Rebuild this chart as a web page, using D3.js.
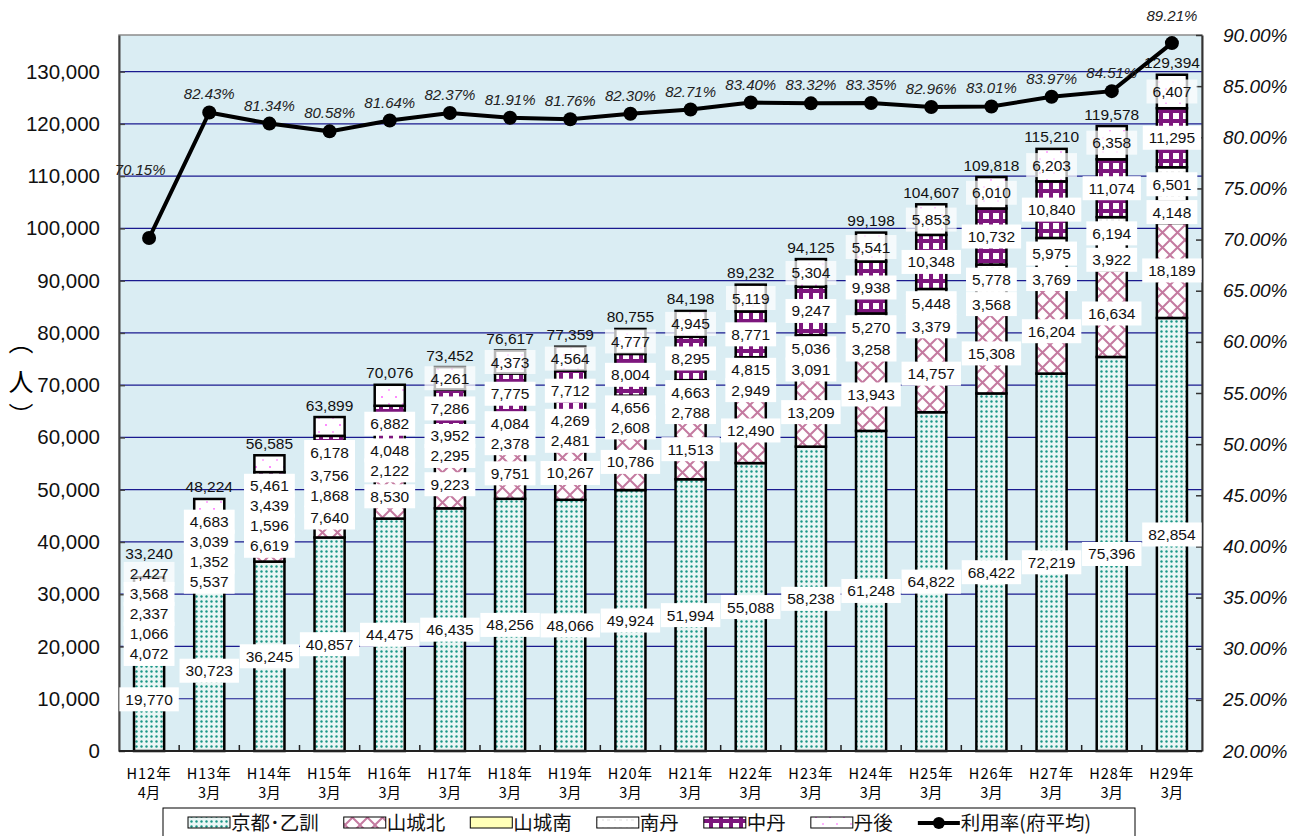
<!DOCTYPE html>
<html>
<head>
<meta charset="utf-8">
<script src="https://cdnjs.cloudflare.com/ajax/libs/d3/7.8.5/d3.min.js"></script>
<style>
body { margin: 0; background: #fff; }
svg { display: block; }
</style>
</head>
<body>
<script>
// --- data ---
var years = ['H12年','H13年','H14年','H15年','H16年','H17年','H18年','H19年','H20年','H21年','H22年','H23年','H24年','H25年','H26年','H27年','H28年','H29年'];
var months = ['4月','3月','3月','3月','3月','3月','3月','3月','3月','3月','3月','3月','3月','3月','3月','3月','3月','3月'];

var kyoto = [19770,30723,36245,40857,44475,46435,48256,48066,49924,51994,55088,58238,61248,64822,68422,72219,75396,82854];
var yamashiroKita = [4072,5537,6619,7640,8530,9223,9751,10267,10786,11513,12490,13209,13943,14757,15308,16204,16634,18189];
var yamashiroMinami = [1066,1352,1596,1868,2122,2295,2378,2481,2608,2788,2949,3091,3258,3379,3568,3769,3922,4148];
var nantan = [2337,3039,3439,3756,4048,3952,4084,4269,4656,4663,4815,5036,5270,5448,5778,5975,6194,6501];
var chutan = [3568,4683,5461,6178,6882,7286,7775,7712,8004,8295,8771,9247,9938,10348,10732,10840,11074,11295];
var tango = [2427,2890,3225,3600,4019,4261,4373,4564,4777,4945,5119,5304,5541,5853,6010,6203,6358,6407];
// tango labels that are covered in the original
var tangoUnlabeled = ['H13年','H14年','H15年','H16年'];
var rate = [70.15,82.43,81.34,80.58,81.64,82.37,81.91,81.76,82.30,82.71,83.40,83.32,83.35,82.96,83.01,83.97,84.51,89.21];

var seriesNames = ['京都･乙訓','山城北','山城南','南丹','中丹','丹後'];
var seriesValues = [kyoto, yamashiroKita, yamashiroMinami, nantan, chutan, tango];
var lineName = '利用率(府平均)';

var leftTicks = d3.range(0, 130001, 10000);
var rightTicks = d3.range(20, 90.1, 5);

// --- setup ---
var W = 1304, H = 836;
var pLeft = 119, pRight = 1202, pTop = 35, pBottom = 751;
var fNum = "'Liberation Sans', Arial, sans-serif";
var fJa = "'Noto Sans CJK JP', 'Liberation Sans', sans-serif";

var svg = d3.select('body').append('svg').attr('width', W).attr('height', H);
var defs = svg.append('defs');

var pat = function(id, w, h) {
  return defs.append('pattern').attr('id', id).attr('patternUnits', 'userSpaceOnUse')
    .attr('width', w).attr('height', h);
};
var p = pat('pKyoto', 5, 5);
p.append('rect').attr('width', 5).attr('height', 5).attr('fill', '#eaf6f5');
p.append('circle').attr('cx', 1.5).attr('cy', 1.5).attr('r', 1.2).attr('fill', '#1a9686');
p = pat('pKita', 15, 15);
p.append('rect').attr('width', 15).attr('height', 15).attr('fill', '#fff');
p.append('path').attr('d', 'M0,0L15,15M15,0L0,15').attr('stroke', '#c47aa0').attr('stroke-width', 2);
p = pat('pMinami', 10, 10);
p.append('rect').attr('width', 10).attr('height', 10).attr('fill', '#ffffb8');
p = pat('pNantan', 12, 8);
p.append('rect').attr('width', 12).attr('height', 8).attr('fill', '#fff');
p.append('path').attr('d', 'M2,4h2M7,4h3').attr('stroke', '#ddd').attr('stroke-width', 1);
p = pat('pChutan', 10, 10);
p.append('rect').attr('width', 10).attr('height', 10).attr('fill', '#7d167d');
p.append('rect').attr('x', 3).attr('y', 3).attr('width', 6).attr('height', 6).attr('fill', '#fff');
p = pat('pTango', 14, 14);
p.append('rect').attr('width', 14).attr('height', 14).attr('fill', '#fff');
p.append('circle').attr('cx', 4).attr('cy', 5).attr('r', 1).attr('fill', '#ff66ff');
p.append('circle').attr('cx', 11).attr('cy', 12).attr('r', 1).attr('fill', '#ff99ff');
var fills = ['url(#pKyoto)','url(#pKita)','url(#pMinami)','url(#pNantan)','url(#pChutan)','url(#pTango)'];

var x = d3.scaleBand().domain(d3.range(years.length)).range([pLeft, pRight])
  .paddingInner(0.5).paddingOuter(0.25);
var yL = d3.scaleLinear().domain([0, 137000]).range([pBottom, pTop]);
var yR = d3.scaleLinear().domain([20, 90]).range([pBottom, pTop]);

// plot background and grid
svg.append('rect').attr('x', pLeft).attr('y', pTop).attr('width', pRight - pLeft).attr('height', pBottom - pTop)
  .attr('fill', '#daedf3').attr('stroke', '#8c8c8c').attr('stroke-width', 1.5);
svg.append('g').selectAll('line').data(leftTicks.slice(1)).join('line')
  .attr('x1', pLeft).attr('x2', pRight).attr('y1', d => yL(d)).attr('y2', d => yL(d))
  .attr('stroke', '#1a1a8f').attr('stroke-width', 1.2);

// stacked bars
var rows = years.map(function(y, i) {
  var r = {};
  seriesNames.forEach(function(s, j) { r[s] = seriesValues[j][i]; });
  return r;
});
var stacked = d3.stack().keys(seriesNames)(rows);

svg.append('g').selectAll('g').data(stacked).join('g')
  .attr('fill', (d, j) => fills[j])
  .selectAll('rect').data(d => d).join('rect')
  .attr('x', (d, i) => x(i)).attr('width', x.bandwidth())
  .attr('y', d => yL(d[1])).attr('height', d => yL(d[0]) - yL(d[1]))
  .attr('stroke', '#000').attr('stroke-width', 2.5);

// axes
var axL = svg.append('g').attr('transform', 'translate(' + pLeft + ',0)')
  .call(d3.axisLeft(yL).tickValues(leftTicks).tickFormat(d3.format(',')).tickSizeInner(-6).tickSizeOuter(0).tickPadding(19));
axL.select('.domain').attr('stroke', '#444').attr('stroke-width', 2);
axL.selectAll('.tick line').attr('stroke', '#444').attr('stroke-width', 1.5);
axL.selectAll('text').attr('font-family', fNum).attr('font-size', 20.5).attr('fill', '#111');

var axR = svg.append('g').attr('transform', 'translate(' + pRight + ',0)')
  .call(d3.axisRight(yR).tickValues(rightTicks).tickFormat(d => d.toFixed(2) + '%').tickSizeInner(-6).tickSizeOuter(0).tickPadding(21));
axR.select('.domain').attr('stroke', '#333').attr('stroke-width', 2);
axR.selectAll('.tick line').attr('stroke', '#333').attr('stroke-width', 1.5);
axR.selectAll('text').attr('font-family', fNum).attr('font-size', 19).attr('font-style', 'italic').attr('fill', '#111');

svg.append('line').attr('x1', pLeft).attr('x2', pRight).attr('y1', pBottom).attr('y2', pBottom)
  .attr('stroke', '#222').attr('stroke-width', 2);
svg.append('g').selectAll('line').data(d3.range(1, years.length)).join('line')
  .attr('x1', i => x(i) - x.step() * x.paddingInner() / 2).attr('x2', i => x(i) - x.step() * x.paddingInner() / 2)
  .attr('y1', pBottom).attr('y2', pBottom - 6).attr('stroke', '#222').attr('stroke-width', 1.5);

svg.append('g').selectAll('text').data(years).join('text')
  .attr('x', (d, i) => x(i) + x.bandwidth() / 2).attr('y', 779)
  .attr('text-anchor', 'middle').attr('font-family', fJa).attr('font-size', 14.5)
  .attr('letter-spacing', 1).text(d => d);
svg.append('g').selectAll('text').data(months).join('text')
  .attr('x', (d, i) => x(i) + x.bandwidth() / 2).attr('y', 798)
  .attr('text-anchor', 'middle').attr('font-family', fJa).attr('font-size', 14.5)
  .text(d => d);

// y title (vertical)
var titleBase = [351, 391, 425];
svg.append('g').selectAll('text').data(['︵', '人', '︶']).join('text')
  .attr('x', 21).attr('y', (d, i) => titleBase[i])
  .attr('text-anchor', 'middle').attr('font-family', fJa).attr('font-size', 25)
  .text(d => d);

// --- data labels with simple collision relaxation ---
var gap = 20;
var labelPos = years.map(function(yr, i) {
  var items = [];
  stacked.forEach(function(s, j) {
    if (j === 5 && tangoUnlabeled.indexOf(yr) >= 0) return;
    items.push({ j: j, v: seriesValues[j][i], y: yL((s[i][0] + s[i][1]) / 2) });
  });
  var tot = stacked[5][i][1];
  items.push({ j: 6, v: tot, y: yL(tot) - 12 });
  for (var it = 0; it < 200; it++) {
    for (var k = 1; k < items.length; k++) {
      var d = items[k - 1].y - items[k].y;
      if (d < gap) {
        var o = (gap - d) / 2;
        items[k - 1].y += o;
        items[k].y -= o;
      }
    }
  }
  return items;
});

var fmt = d3.format(',');
var labG = svg.append('g');
for (var j = 0; j <= 6; j++) {
  labelPos.forEach(function(items, i) {
    items.filter(d => d.j === j).forEach(function(d) {
      var cx = x(i) + x.bandwidth() / 2;
      var t = labG.append('text').attr('x', cx).attr('y', d.y + 5.5)
        .attr('text-anchor', 'middle').attr('font-family', fNum).attr('font-size', 15.5)
        .attr('fill', '#111').text(fmt(d.v));
      if (j < 6) {
        var w = t.node().getComputedTextLength() + 12;
        labG.insert('rect', function() { return t.node(); })
          .attr('x', cx - w / 2).attr('y', d.y - 12).attr('width', w).attr('height', 24)
          .attr('fill', '#fff').attr('fill-opacity', j === 5 ? 0.72 : 1);
      }
    });
  });
}

// --- rate line ---
var cxOf = i => x(i) + x.bandwidth() / 2;
svg.append('path').datum(rate)
  .attr('d', d3.line().x((d, i) => cxOf(i)).y(d => yR(d)))
  .attr('fill', 'none').attr('stroke', '#000').attr('stroke-width', 4);
svg.append('g').selectAll('circle').data(rate).join('circle')
  .attr('cx', (d, i) => cxOf(i)).attr('cy', d => yR(d)).attr('r', 7).attr('fill', '#000');
svg.append('g').selectAll('text').data(rate).join('text')
  .attr('x', (d, i) => cxOf(i) - (i === 0 ? 9 : 0))
  .attr('y', (d, i) => yR(d) + (i === 0 ? -63 : i === rate.length - 1 ? -22 : -13))
  .attr('text-anchor', 'middle').attr('font-family', fNum).attr('font-size', 15)
  .attr('font-style', 'italic').attr('fill', '#222')
  .text(d => d.toFixed(2) + '%');

// --- legend ---
var lg = svg.append('g');
lg.append('rect').attr('x', 163).attr('y', 808).attr('width', 972).attr('height', 30)
  .attr('fill', '#fff').attr('stroke', '#000').attr('stroke-width', 1);
var lx = 188, ly = 823;
var legendItems = seriesNames.concat([lineName]);
legendItems.forEach(function(name, j) {
  if (j < 6) {
    lg.append('rect').attr('x', lx).attr('y', ly - 6).attr('width', 42).attr('height', 11)
      .attr('fill', fills[j]).attr('stroke', '#000').attr('stroke-width', 1);
  } else {
    lg.append('line').attr('x1', lx).attr('x2', lx + 42).attr('y1', ly).attr('y2', ly)
      .attr('stroke', '#000').attr('stroke-width', 4);
    lg.append('circle').attr('cx', lx + 21).attr('cy', ly).attr('r', 6).attr('fill', '#000');
  }
  var t = lg.append('text').attr('x', lx + 43).attr('y', ly + 7)
    .attr('font-family', fJa).attr('font-size', 19.5).attr('fill', '#111').text(name);
  lx += 43 + t.node().getComputedTextLength() + 25;
});
</script>
</body>
</html>
